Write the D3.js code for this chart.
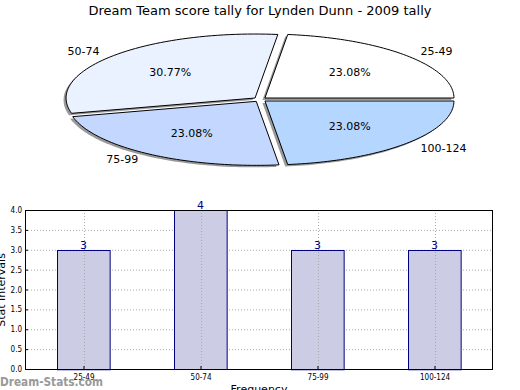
<!DOCTYPE html>
<html>
<head>
<meta charset="utf-8">
<script src="https://cdn.jsdelivr.net/npm/d3@7"></script>
<style>
  body { margin: 0; background: #fff; }
  text { font-family: "DejaVu Sans", sans-serif; }
</style>
</head>
<body>
<script>
const categories = ["25-49", "50-74", "75-99", "100-124"];
const counts = [3, 4, 3, 3];
const sliceColors = ["#ffffff", "#eaf1ff", "#c4d8ff", "#b4d6ff"];
const yTicks = [0, 0.5, 1, 1.5, 2, 2.5, 3, 3.5, 4];

const W = 520, H = 390;
const svg = d3.select("body").append("svg")
  .attr("width", W).attr("height", H);

// title
svg.append("text")
  .attr("x", 260).attr("y", 15)
  .attr("text-anchor", "middle")
  .style("font-size", "13px")
  .text("Dream Team score tally for Lynden Dunn - 2009 tally");

// ---- pie (squashed, matplotlib style: start at 0, counterclockwise) ----
const cx = 260, cy = 99.5, rx = 189, ry = 64, explode = 0.035;
const total = d3.sum(counts);
let acc = 0;
const slices = counts.map((v, i) => {
  const a0 = acc / total * 2 * Math.PI;
  acc += v;
  const a1 = acc / total * 2 * Math.PI;
  return { cat: categories[i], v, a0, a1, mid: (a0 + a1) / 2, color: sliceColors[i] };
});

// unit circle -> ellipse scales
const sx = d3.scaleLinear().domain([-1, 1]).range([cx - rx, cx + rx]);
const sy = d3.scaleLinear().domain([-1, 1]).range([cy + ry, cy - ry]);

function slicePath(s, ox, oy) {
  const dx = explode * Math.cos(s.mid), dy = explode * Math.sin(s.mid);
  const pts = [[dx, dy]];
  const n = 60;
  for (let k = 0; k <= n; k++) {
    const a = s.a0 + (s.a1 - s.a0) * k / n;
    pts.push([dx + Math.cos(a), dy + Math.sin(a)]);
  }
  return d3.line().x(p => sx(p[0]) + ox).y(p => sy(p[1]) + oy)(pts) + "Z";
}

const pie = svg.append("g");
pie.selectAll("path.shadow").data(slices).enter().append("path")
  .attr("class", "shadow")
  .attr("d", d => slicePath(d, -2.5, 2))
  .attr("fill", "#000").attr("fill-opacity", 0.4).attr("stroke", "none");
pie.selectAll("path.slice").data(slices).enter().append("path")
  .attr("class", "slice")
  .attr("d", d => slicePath(d, 0, 0))
  .attr("fill", d => d.color)
  .attr("stroke", "#000").attr("stroke-width", 1);

pie.selectAll("text.lbl").data(slices).enter().append("text")
  .attr("class", "lbl")
  .attr("x", d => sx(explode * Math.cos(d.mid) + 1.1 * Math.cos(d.mid)))
  .attr("y", d => sy(explode * Math.sin(d.mid) + 1.1 * Math.sin(d.mid)))
  .attr("dy", "0.35em")
  .attr("text-anchor", d => Math.cos(d.mid) > 0 ? "start" : "end")
  .style("font-size", "11px")
  .text(d => d.cat);

pie.selectAll("text.pct").data(slices).enter().append("text")
  .attr("class", "pct")
  .attr("x", d => sx(explode * Math.cos(d.mid) + 0.6 * Math.cos(d.mid)))
  .attr("y", d => sy(explode * Math.sin(d.mid) + 0.6 * Math.sin(d.mid)))
  .attr("dy", "0.35em")
  .attr("text-anchor", "middle")
  .style("font-size", "11px")
  .text(d => (d.v / total * 100).toFixed(2) + "%");

// ---- bar chart ----
const L = 25, R = 493, T = 210, B = 369;
const x = d3.scaleLinear().domain([-0.5, categories.length - 0.5]).range([L, R]);
const y = d3.scaleLinear().domain([0, 4]).range([B, T]);
const barW = 0.45;

const g = svg.append("g");

// grid
g.selectAll("line.hg").data(yTicks).enter().append("line")
  .attr("x1", L).attr("x2", R)
  .attr("y1", d => y(d) + 0.5).attr("y2", d => y(d) + 0.5)
  .attr("stroke", "#aaa").attr("stroke-dasharray", "1,2");

g.selectAll("rect.bar").data(counts).enter().append("rect")
  .attr("x", (d, i) => Math.round(x(i - barW / 2)) + 0.5)
  .attr("y", d => Math.round(y(d)) + 0.5)
  .attr("width", x(barW) - x(0))
  .attr("height", d => y(0) - y(d))
  .attr("fill", "#ccccE4").attr("stroke", "#000080").attr("stroke-width", 1);

g.selectAll("line.vg").data(categories).enter().append("line")
  .attr("x1", (d, i) => Math.round(x(i)) + 0.5).attr("x2", (d, i) => Math.round(x(i)) + 0.5)
  .attr("y1", T).attr("y2", B)
  .attr("stroke", "#aaa").attr("stroke-dasharray", "1,2");

g.selectAll("text.val").data(counts).enter().append("text")
  .attr("x", (d, i) => x(i))
  .attr("y", d => y(d) - 1)
  .attr("text-anchor", "middle")
  .attr("fill", "#000080")
  .style("font-size", "11px")
  .text(d => d);

// frame
g.append("rect").attr("x", L + 0.5).attr("y", T + 0.5)
  .attr("width", R - L - 1).attr("height", B - T)
  .attr("fill", "none").attr("stroke", "#000");

// axes
const yAxis = d3.axisLeft(y).tickValues(yTicks).tickFormat(d3.format(".1f")).tickSizeInner(-3).tickSizeOuter(0);
g.append("g").attr("transform", `translate(${L},0)`).call(yAxis)
  .call(a => a.select(".domain").remove())
  .call(a => a.selectAll("text").attr("x", -3).style("font-size", "8px").style("font-family", "'Liberation Sans Narrow', 'DejaVu Sans Condensed', sans-serif"));

const xAxis = d3.axisBottom(x).tickValues(d3.range(categories.length)).tickFormat(i => categories[i]).tickSizeInner(-3).tickSizeOuter(0);
g.append("g").attr("transform", `translate(0,${B})`).call(xAxis)
  .call(a => a.select(".domain").remove())
  .call(a => a.selectAll("text").attr("y", 5).style("font-size", "8px").style("font-family", "'Liberation Sans Narrow', 'DejaVu Sans Condensed', sans-serif"));

svg.append("text")
  .attr("transform", "translate(1,290) rotate(-90)")
  .attr("text-anchor", "middle").attr("dy", "0.35em")
  .style("font-size", "11px")
  .text("Stat Intervals");

svg.append("text")
  .attr("x", 259).attr("y", 393)
  .attr("text-anchor", "middle")
  .style("font-size", "11px")
  .text("Frequency");

svg.append("text")
  .attr("x", 0).attr("y", 386)
  .attr("fill", "#999").style("font-size", "13px").style("font-weight", "bold")
  .style("font-family", "'DejaVu Sans Condensed', 'DejaVu Sans', sans-serif")
  .attr("textLength", 103).attr("lengthAdjust", "spacingAndGlyphs")
  .text("Dream-Stats.com");
</script>
</body>
</html>
